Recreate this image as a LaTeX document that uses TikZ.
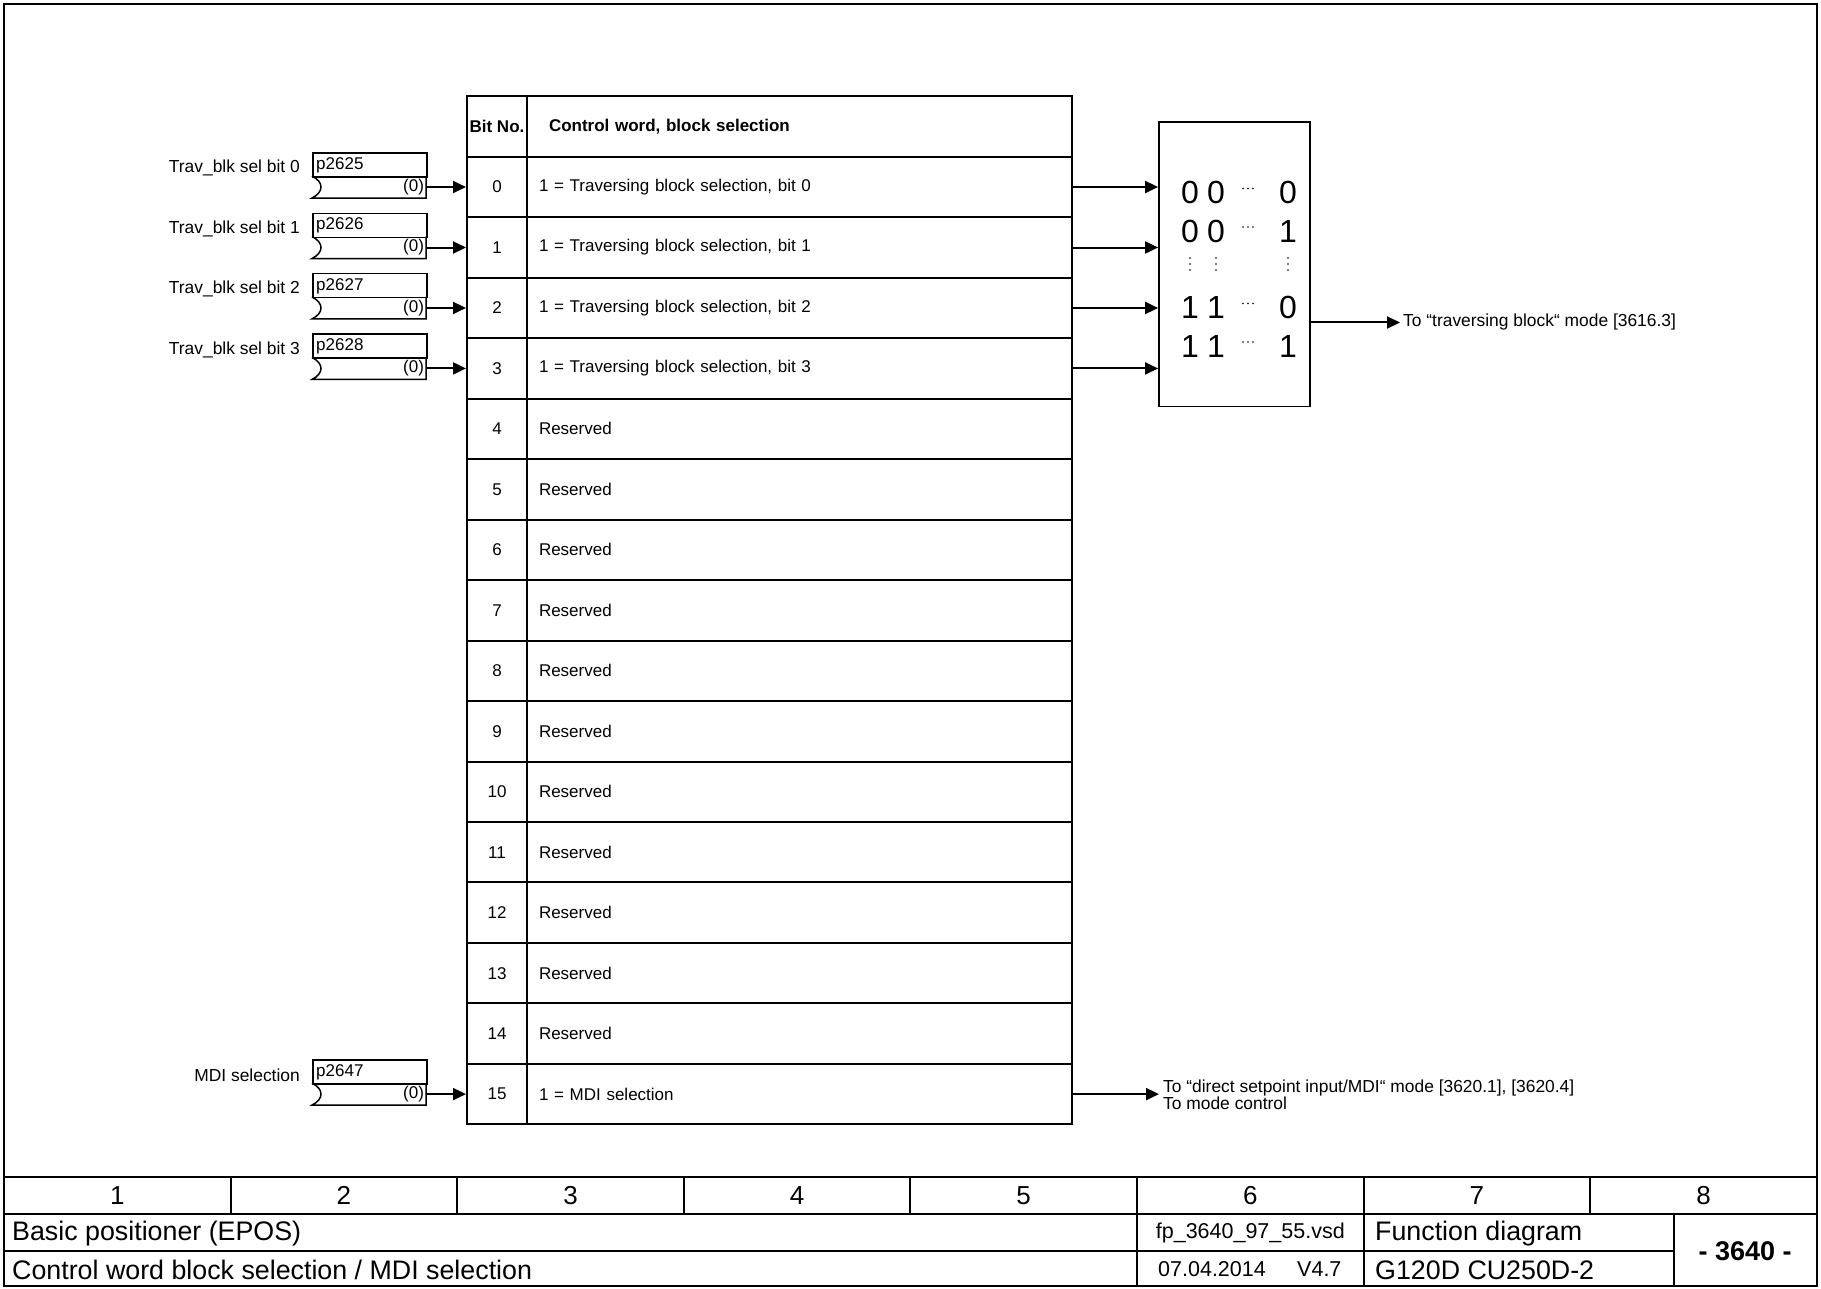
\documentclass[tikz,border=0pt]{standalone}
\usepackage{fontspec}
\setmainfont{Liberation Sans}
\usetikzlibrary{arrows.meta,calc}
\begin{document}
\begin{tikzpicture}[x=1pt,y=-1pt,
  every node/.style={inner sep=0pt},
  f17/.style={font=\fontsize{17}{19}\selectfont},
  f17l/.style={font=\fontsize{17.4}{19}\selectfont},
  f17b/.style={font=\fontsize{17}{19}\selectfont\bfseries},
  f22/.style={font=\fontsize{21.5}{25}\selectfont},
  f26/.style={font=\fontsize{26}{30}\selectfont},
  f27/.style={font=\fontsize{26.8}{30}\selectfont},
  f26b/.style={font=\fontsize{27}{30}\selectfont\bfseries},
  f32/.style={font=\fontsize{32}{36}\selectfont},
  cell/.style={draw, line width=2pt, minimum height=60.47pt},
  bitcell/.style={cell, minimum width=60pt},
  desccell/.style={cell, minimum width=545pt, text width=521pt, inner xsep=12pt, align=left},
  pbox/.style={line width=1.5pt},
  arr/.style={line width=2pt, -{Triangle[length=13pt,width=12pt]}},
  frame/.style={line width=2pt},
  dotm/.style={fill=black, draw=none}
]
\useasboundingbox (0,0) rectangle (1821,1289);
\draw[frame] (4,4) rectangle (1817,1286);

% table header
\node[cell, minimum width=60pt, minimum height=60.4pt, f17b] (bh) at (497,126.6) {Bit No.};
\node[cell, minimum width=545pt, minimum height=60.4pt, text width=501pt, inner xsep=22pt, align=left, f17b] (dh) at (799.5,126.6) {Control word, block selection};

% table rows
\foreach \r/\t in {0/1 = Traversing block selection\comma{} bit 0,
                   1/1 = Traversing block selection\comma{} bit 1,
                   2/1 = Traversing block selection\comma{} bit 2,
                   3/1 = Traversing block selection\comma{} bit 3,
                   4/Reserved,5/Reserved,6/Reserved,7/Reserved,8/Reserved,
                   9/Reserved,10/Reserved,11/Reserved,12/Reserved,13/Reserved,
                   14/Reserved,15/1 = MDI selection}{
  \pgfmathsetmacro\c{156.8+60.47*(\r+0.5)}
  \node[bitcell, f17] (b\r) at (497,\c) {\r};
  \node[desccell, f17] (d\r) at (799.5,\c) {\def\comma{,}\t};
}

% parameter boxes
\foreach \r/\p/\lab in {0/2625/Trav\_blk sel bit 0,1/2626/Trav\_blk sel bit 1,
                        2/2627/Trav\_blk sel bit 2,3/2628/Trav\_blk sel bit 3,
                        15/2647/MDI selection}{
  \pgfmathsetmacro\c{156.8+60.47*(\r+0.5)}
  \node[draw, pbox, minimum width=114pt, minimum height=24pt, anchor=north west] (pt\r) at (312,\c-35) {};
  \node[f17, anchor=west] (pn\r) at (316,\c-22) {p\p};
  \node[minimum width=114pt, minimum height=22pt, text width=110pt, inner xsep=2pt, align=right, f17] (pl\r) at (369,\c) {(0)};
  \draw[pbox] (312,\c-11) .. controls (324,\c-5) and (324,\c+5) .. (312,\c+11) -- (426,\c+11) -- (426,\c-11);
  \node[f17l, anchor=east] (lab\r) at (300,\c-19) {\lab};
  \draw[arr] (pl\r) -- (b\r);
}

% selection block
\node[draw, line width=1.8pt, minimum width=151pt, minimum height=284.5pt] (blk) at (1234.5,264.25) {};
\foreach \r in {0,1,2,3}{
  \draw[arr] (d\r) -- (d\r -| blk.west);
}
% digits
\foreach \y/\a/\b/\z [count=\n] in {192.5/0/0/0, 231/0/0/1, 307.5/1/1/0, 346/1/1/1}{
  \node[f32] (ga\n) at (1190,\y) {\a};
  \node[f32] (gb\n) at (1216,\y) {\b};
  \node[f32] (gz\n) at (1288,\y) {\z};
  \foreach \dx in {-5,0,5}{
    \fill[dotm] (1248+\dx,\y-4) circle (0.9);
  }
}
\foreach \x in {1190,1216,1288}{
  \foreach \dy in {258,264,270}{
    \fill[dotm] (\x,\dy) circle (0.9);
  }
}

% outputs
\node[f17l, anchor=west, inner xsep=3pt] (out1) at (1400,322.5) {To “traversing block“ mode [3616.3]};
\draw[arr] (blk.east |- out1.west) -- (out1.west);
\node[anchor=west, inner xsep=4pt, align=left, font=\fontsize{17.4}{17.4}\selectfont] (out2) at (1159,1095) {To “direct setpoint input/MDI“ mode [3620.1], [3620.4]\\To mode control};
\draw[arr] (d15) -- (d15 -| out2.west);

% title block
\draw[frame] (4,1176.5) -- (1817,1176.5);
\draw[frame] (4,1213.6) -- (1817,1213.6);
\draw[frame] (4,1250.8) -- (1673.5,1250.8);
\foreach \k in {1,...,7}{
  \draw[frame] (4+226.6*\k,1176.5) -- (4+226.6*\k,1213.6);
}
\foreach \k in {1,...,8}{
  \node[f26] (col\k) at (4+226.6*\k-113.3,1195.5) {\k};
}
\draw[frame] (1137,1213.6) -- (1137,1286);
\draw[frame] (1363.7,1213.6) -- (1363.7,1286);
\draw[frame] (1673.5,1213.6) -- (1673.5,1286);
\node[f27, anchor=west] (tb1) at (12,1233.8) {Basic positioner (EPOS)};
\node[f27, anchor=west] (tb2) at (12,1270.2) {Control word block selection / MDI selection};
\node[f22] (tb3) at (1250.3,1232.8) {fp\_3640\_97\_55.vsd};
\node[f22, anchor=west] (tb4) at (1158,1269.2) {07.04.2014};
\node[f22, anchor=west] (tb5) at (1297,1269.2) {V4.7};
\node[f27, anchor=west] (tb6) at (1375,1233.8) {Function diagram};
\node[f27, anchor=west] (tb7) at (1375,1270.2) {G120D CU250D-2};
\node[f26b] (tb8) at (1745.2,1251) {- 3640 -};
\end{tikzpicture}
\end{document}
